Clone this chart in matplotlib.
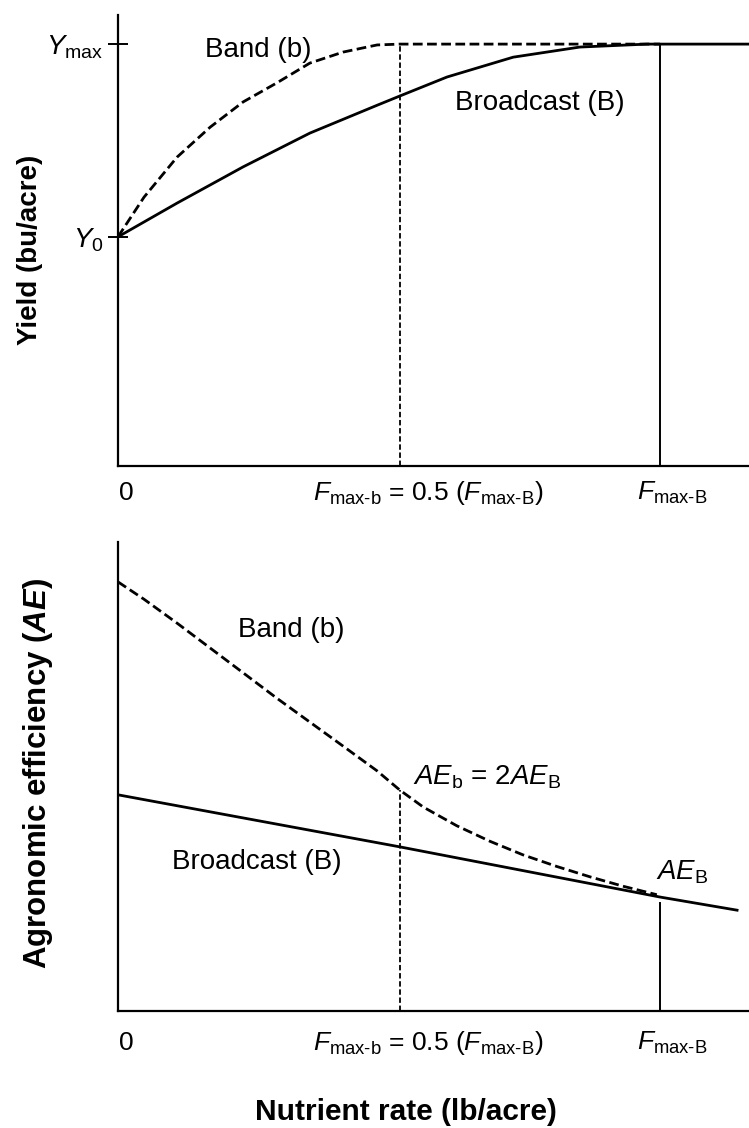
import matplotlib
matplotlib.use("Agg")
import matplotlib.pyplot as plt

plt.rcParams["font.family"] = ["Liberation Sans", "DejaVu Sans"]
plt.rcParams["mathtext.fontset"] = "custom"
plt.rcParams["mathtext.rm"] = "Liberation Sans"
plt.rcParams["mathtext.it"] = "Liberation Sans:italic"
plt.rcParams["mathtext.bf"] = "Liberation Sans:bold"
plt.rcParams["mathtext.bfit"] = "Liberation Sans:italic:bold"

# -- Data (nutrient rate relative to F_max-B) --------------
F_MAX_B = 1.0
F_MAX_b = 0.52

yield_rate_band = [0, 0.048, 0.109, 0.170, 0.231, 0.293, 0.354, 0.415, 0.478, 0.52, 1.0]
yield_band = [0.543, 0.637, 0.732, 0.803, 0.863, 0.908, 0.955, 0.981, 0.998, 1.0, 1.0]
yield_rate_bcast = [0, 0.109, 0.231, 0.354, 0.478, 0.52, 0.607, 0.729, 0.852, 0.976, 1.0, 1.164]
yield_bcast = [0.543, 0.623, 0.709, 0.789, 0.855, 0.877, 0.922, 0.969, 0.993, 1.0, 1.0, 1.0]
Y0 = 0.543
YMAX = 1.0

ae_rate_band = [0, 0.048, 0.109, 0.170, 0.231, 0.293, 0.354, 0.415, 0.478, 0.52,
                0.563, 0.625, 0.686, 0.747, 0.810, 0.871, 0.932, 0.994]
ae_band = [0.915, 0.878, 0.827, 0.774, 0.721, 0.667, 0.616, 0.565, 0.512, 0.471,
           0.435, 0.395, 0.362, 0.333, 0.308, 0.286, 0.266, 0.248]
ae_rate_bcast = [0, 0.52, 1.0, 1.142]
ae_bcast = [0.461, 0.350, 0.243, 0.215]
AE_B_AT_FMAX = 0.23

fmax_b_label = r"$F_{\mathrm{max\text{-}b}}$ = 0.5 ($F_{\mathrm{max\text{-}B}}$)"
fmax_B_label = r"$F_{\mathrm{max\text{-}B}}$"

fig = plt.figure(figsize=(7.49, 11.28), dpi=100)
ax1 = fig.add_axes([0.1575, 0.587, 0.8425, 0.3997])
ax2 = fig.add_axes([0.1575, 0.1037, 0.8425, 0.4158])

for ax in (ax1, ax2):
    for s in ("top", "right"):
        ax.spines[s].set_visible(False)
    for s in ("left", "bottom"):
        ax.spines[s].set_linewidth(1.6)
    ax.set_xlim(0, 1.164)
    ax.set_xticks([])

# -- Yield panel -------------------------------------------
ax1.set_ylim(0, 1.069)
ax1.plot(yield_rate_bcast, yield_bcast, color="black", lw=2.0)
ax1.plot(yield_rate_band, yield_band, color="black", lw=2.0, dashes=(3.5, 1.6))
ax1.plot([F_MAX_b, F_MAX_b], [0, YMAX], color="black", lw=1.3, dashes=(3, 1.5))
ax1.plot([F_MAX_B, F_MAX_B], [0, YMAX], color="black", lw=1.4)
ax1.set_yticks([Y0, YMAX])
ax1.set_yticklabels([r"$Y_0$", r"$Y_{\mathrm{max}}$"], fontsize=20)
ax1.tick_params(axis="y", direction="inout", length=15, width=1.4, pad=3)
ax1.text(0.258, 0.986, "Band (b)", fontsize=20, ha="center", va="center")
ax1.text(0.779, 0.86, "Broadcast (B)", fontsize=20, ha="center", va="center")

# -- AE panel ----------------------------------------------
ax2.set_ylim(0, 1.0)
ax2.set_yticks([])
ax2.plot(ae_rate_bcast, ae_bcast, color="black", lw=2.0)
ax2.plot(ae_rate_band, ae_band, color="black", lw=2.0, dashes=(3.5, 1.6))
ax2.plot([F_MAX_b, F_MAX_b], [0, ae_band[ae_rate_band.index(F_MAX_b)]],
         color="black", lw=1.3, dashes=(3, 1.5))
ax2.plot([F_MAX_B, F_MAX_B], [0, AE_B_AT_FMAX], color="black", lw=1.4)
ax2.text(0.319, 0.812, "Band (b)", fontsize=20, ha="center", va="center")
ax2.text(0.681, 0.499, r"$AE_{\mathrm{b}}$ = $\mathit{2AE}_{\mathrm{B}}$", fontsize=20,
         ha="center", va="center")
ax2.text(0.256, 0.318, "Broadcast (B)", fontsize=20, ha="center", va="center")
ax2.text(1.04, 0.296, r"$AE_{\mathrm{B}}$", fontsize=20, ha="center", va="center")

# axis titles
fig.text(30 / 749, 1 - 250 / 1128, "Yield (bu/acre)", fontsize=20, fontweight="bold",
         rotation=90, ha="center", va="center")
fig.text(38 / 749, 1 - 773 / 1128, r"Agronomic efficiency ($\mathbfit{AE}$)", fontsize=22.5,
         fontweight="bold", rotation=90, ha="center", va="center")
fig.text(406 / 749, 1 - 1112 / 1128, "Nutrient rate (lb/acre)", fontsize=21.5,
         fontweight="bold", ha="center", va="center")

# x labels placed under the key rates
for ax, yoff in ((ax1, -0.06), (ax2, -0.068)):
    tr = ax.get_xaxis_transform()
    ax.text(0.015, yoff, "0", fontsize=19, ha="center", va="center", transform=tr)
    ax.text(0.572, yoff, fmax_b_label, fontsize=19, ha="center", va="center", transform=tr)
    ax.text(1.022, yoff, fmax_B_label, fontsize=19, ha="center", va="center", transform=tr)

fig.savefig("out.png", dpi=100)
